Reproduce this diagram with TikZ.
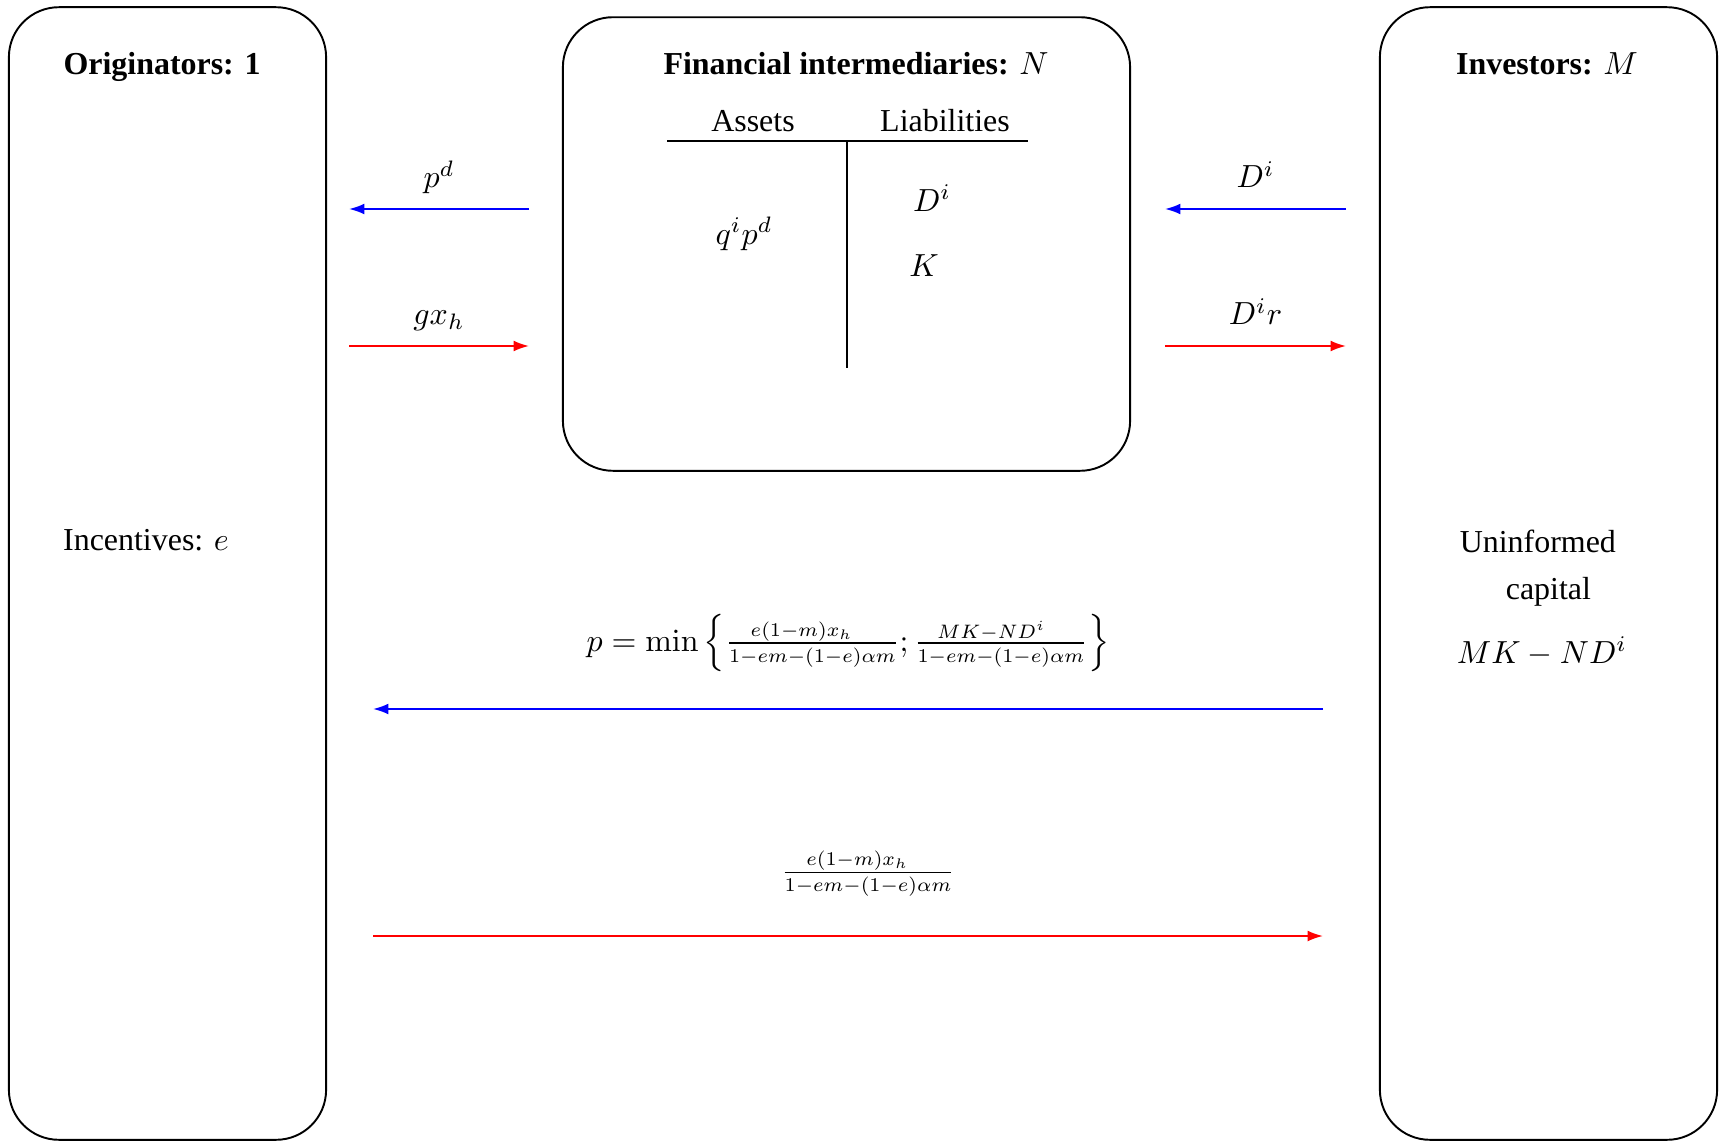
\documentclass[tikz,border=0pt]{standalone}
\usepackage[no-math]{fontspec}
\setmainfont{Liberation Serif}
\usepackage{graphicx}
\usetikzlibrary{arrows.meta}
\newcommand{\smfrac}[2]{\frac{\scalebox{0.87}{$\scriptstyle #1$}}{\scalebox{0.87}{$\scriptstyle #2$}}}

\begin{document}
\begin{tikzpicture}[
x=0.011cm,y=-0.011cm,
party/.style={rectangle,rounded corners=5.5mm,draw,semithick,inner sep=0pt},
head/.style={font=\bfseries},
flowB/.style={-{Latex[length=1.7mm,width=1.2mm]},semithick,draw=blue},
flowR/.style={-{Latex[length=1.7mm,width=1.2mm]},semithick,draw=red},
lbl/.style={midway,above=1pt,text depth=2pt}
]
\useasboundingbox (0,0) rectangle (1719,1141);

% the three parties
\node[party,minimum width=3.49cm,minimum height=12.46cm] (orig) at (167.5,573.5) {};
\node[party,minimum width=6.24cm,minimum height=4.99cm] (fi) at (846.5,244) {};
\node[party,minimum width=3.71cm,minimum height=12.46cm] (inv) at (1548.5,573.5) {};

\node[head] (origT) at (162,67) {Originators: 1};
\node[head] (fiT) at (856,64) {Financial intermediaries: \normalfont$N$};
\node[head] (invT) at (1547,64) {Investors: \normalfont$M$};

\node (incent) at (146,540) {Incentives: $e$};
\node[align=center] (uninf) at (1542,598) {Uninformed\hspace*{2.6pt}\\[2.6pt]\hspace*{4pt}capital\\[8pt]$MK-ND^i$};

% balance sheet of the intermediary
\node (assets) at (753,121) {Assets};
\node (liab) at (945,121) {Liabilities};
\draw[semithick] (667,141) -- (1028,141);
\draw[semithick] (847,141) -- (847,368);
\node (qp) at (744,234) {$q^ip^d$};
\node (dep) at (932,198) {$D^i$};
\node (cap) at (924,266) {$K$};

% short flows
\coordinate (pdS) at (529,209); \coordinate (pdE) at (349,209);
\coordinate (gxS) at (349,346); \coordinate (gxE) at (529,346);
\coordinate (dS) at (1346,209); \coordinate (dE) at (1165,209);
\coordinate (drS) at (1165,346); \coordinate (drE) at (1346,346);
\draw[flowB] (pdS) -- node[lbl]{$p^d$} (pdE);
\draw[flowR] (gxS) -- node[lbl]{$gx_h$} (gxE);
\draw[flowB] (dS) -- node[lbl]{$D^i$} (dE);
\draw[flowR] (drS) -- node[lbl]{$D^ir$} (drE);

% long flows
\coordinate (pS) at (1323,709); \coordinate (pE) at (373,709);
\coordinate (xS) at (373,936); \coordinate (xE) at (1323,936);
\draw[flowB] (pS) -- node[midway,above=8pt]{$p=\min\left\{\smfrac{e(1-m)x_h}{1-em-(1-e)\alpha m};\smfrac{MK-ND^i}{1-em-(1-e)\alpha m}\right\}$} (pE);
\draw[flowR] (xS) -- node[midway,above=8.8pt,xshift=0.22cm]{$\smfrac{e(1-m)x_h}{1-em-(1-e)\alpha m}$} (xE);
\end{tikzpicture}
\end{document}
